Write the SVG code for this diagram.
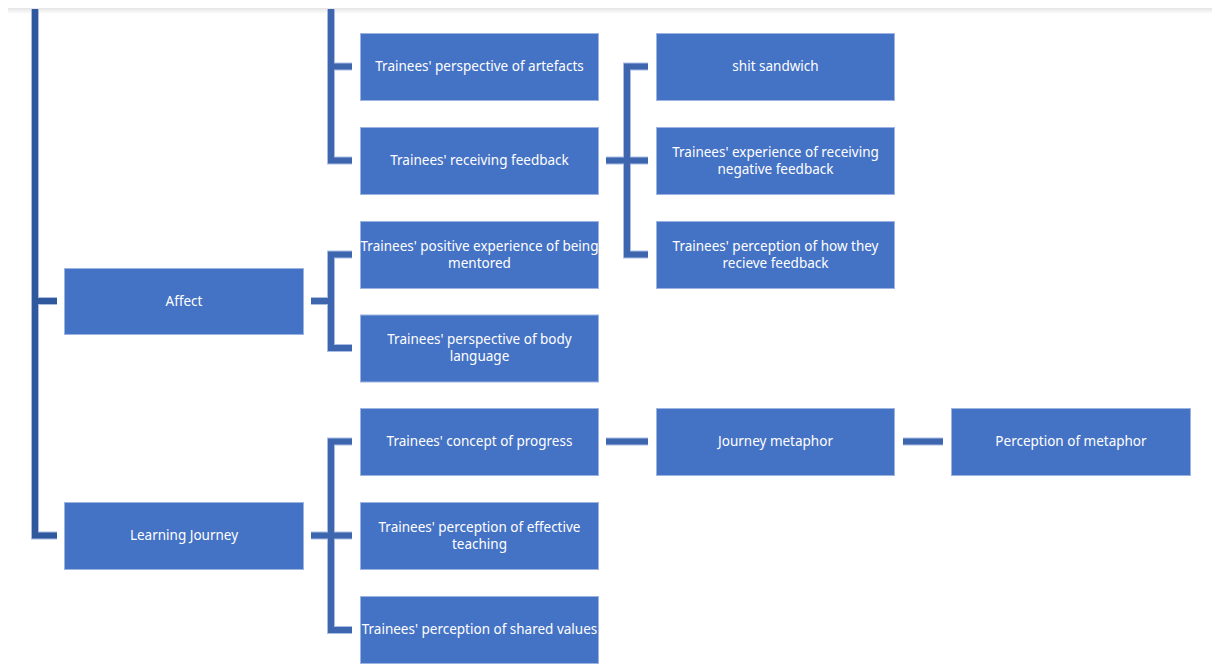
<svg xmlns="http://www.w3.org/2000/svg" width="1219" height="664" viewBox="0 0 1219 664">
  <defs>
    <linearGradient id="topShade" x1="0" y1="0" x2="0" y2="1">
      <stop offset="0" stop-color="#e4e4e4"/>
      <stop offset="1" stop-color="#ffffff"/>
    </linearGradient>
    <style>
      .box { fill: #4472C4; stroke: #9DB4E0; stroke-width: 1; }
      .lbl { fill: #ffffff; font-family: "Noto Sans", "Open Sans", "Liberation Sans", sans-serif; font-size: 13.5px; text-anchor: middle; dominant-baseline: central; }
      .edge { fill: none; stroke: #A9BCE3; stroke-width: 8; stroke-linejoin: miter; stroke-linecap: butt; }
      .core { fill: none; stroke: #3D66AF; stroke-width: 6; stroke-linejoin: miter; stroke-linecap: butt; }
      .core.root { stroke: #30589C; }
    </style>
  </defs>

  <rect width="1219" height="664" fill="#ffffff"/>

  <!-- header rule along the top edge -->
  <rect x="8" y="8" width="1204" height="6" fill="url(#topShade)"/>

  <!-- connectors -->
  <g id="connectors">
    <g class="outline">
      <path class="edge" d="M35 9 V535.5 H57 M35 301 H57"/>
      <path class="edge" d="M331 9 V160.5 H352 M331 66.5 H352"/>
      <path class="edge" d="M311 301 H331 M352 254.5 H331 V348 H352"/>
      <path class="edge" d="M606 160.5 H648 M648 66.5 H627 V254.5 H648"/>
      <path class="edge" d="M311 535.5 H352 M352 441.5 H331 V630 H352"/>
      <path class="edge" d="M606 441.5 H648 M903 441.5 H943"/>
    </g>
    <path class="core root" d="M35 9 V535.5 H57 M35 301 H57"/>
    <path class="core" d="M331 9 V160.5 H352 M331 66.5 H352"/>
    <path class="core" d="M311 301 H331 M352 254.5 H331 V348 H352"/>
    <path class="core" d="M606 160.5 H648 M648 66.5 H627 V254.5 H648"/>
    <path class="core" d="M311 535.5 H352 M352 441.5 H331 V630 H352"/>
    <path class="core" d="M606 441.5 H648 M903 441.5 H943"/>
  </g>

  <!-- level 1 -->
  <g id="affect">
    <rect class="box" x="64.5" y="268.5" width="239" height="66"/>
    <text class="lbl" x="184" y="300.5">Affect</text>
  </g>
  <g id="learning-journey">
    <rect class="box" x="64.5" y="502.5" width="239" height="67"/>
    <text class="lbl" x="184" y="535">Learning Journey</text>
  </g>

  <!-- level 2 -->
  <g id="artefacts">
    <rect class="box" x="360.5" y="33.5" width="238" height="67"/>
    <text class="lbl" x="479.5" y="66">Trainees' perspective of artefacts</text>
  </g>
  <g id="receiving-feedback">
    <rect class="box" x="360.5" y="127.5" width="238" height="67"/>
    <text class="lbl" x="479.5" y="160">Trainees' receiving feedback</text>
  </g>
  <g id="positive-experience">
    <rect class="box" x="360.5" y="221.5" width="238" height="67"/>
    <text class="lbl" x="479.5" y="245.5">Trainees' positive experience of being</text>
    <text class="lbl" x="479.5" y="262.5">mentored</text>
  </g>
  <g id="body-language">
    <rect class="box" x="360.5" y="315" width="238" height="67"/>
    <text class="lbl" x="479.5" y="339">Trainees' perspective of body</text>
    <text class="lbl" x="479.5" y="356">language</text>
  </g>
  <g id="concept-of-progress">
    <rect class="box" x="360.5" y="408.5" width="238" height="67"/>
    <text class="lbl" x="479.5" y="441">Trainees' concept of progress</text>
  </g>
  <g id="effective-teaching">
    <rect class="box" x="360.5" y="502.5" width="238" height="67"/>
    <text class="lbl" x="479.5" y="526.5">Trainees' perception of effective</text>
    <text class="lbl" x="479.5" y="543.5">teaching</text>
  </g>
  <g id="shared-values">
    <rect class="box" x="360.5" y="596.5" width="238" height="67"/>
    <text class="lbl" x="479.5" y="629">Trainees' perception of shared values</text>
  </g>

  <!-- level 3 -->
  <g id="shit-sandwich">
    <rect class="box" x="656.5" y="33.5" width="238" height="67"/>
    <text class="lbl" x="775.5" y="66">shit sandwich</text>
  </g>
  <g id="negative-feedback">
    <rect class="box" x="656.5" y="127.5" width="238" height="67"/>
    <text class="lbl" x="775.5" y="151.5">Trainees' experience of receiving</text>
    <text class="lbl" x="775.5" y="168.5">negative feedback</text>
  </g>
  <g id="how-they-receive">
    <rect class="box" x="656.5" y="221.5" width="238" height="67"/>
    <text class="lbl" x="775.5" y="245.5">Trainees' perception of how they</text>
    <text class="lbl" x="775.5" y="262.5">recieve feedback</text>
  </g>
  <g id="journey-metaphor">
    <rect class="box" x="656.5" y="408.5" width="238" height="67"/>
    <text class="lbl" x="775.5" y="441">Journey metaphor</text>
  </g>

  <!-- level 4 -->
  <g id="perception-of-metaphor">
    <rect class="box" x="951.5" y="408.5" width="239" height="67"/>
    <text class="lbl" x="1071" y="441">Perception of metaphor</text>
  </g>
</svg>
